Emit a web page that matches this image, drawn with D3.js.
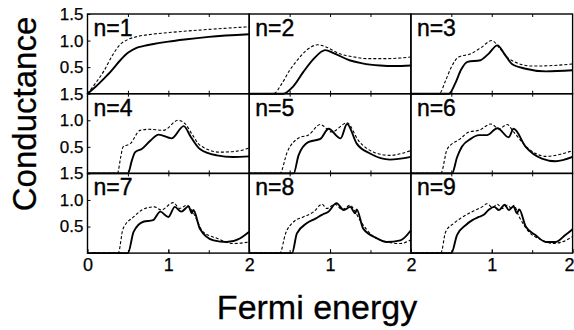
<!DOCTYPE html>
<html>
<head>
<meta charset="utf-8">
<script src="https://cdn.jsdelivr.net/npm/d3@7"></script>
<style>
  body { margin: 0; background: #fff; }
  svg { display: block; font-family: "Liberation Sans", Arial, sans-serif; }
</style>
</head>
<body>
<div id="chart"></div>
<script>
// panel labels, row-major (3 x 3)
const panelN = [1, 2, 3, 4, 5, 6, 7, 8, 9];

// [Fermi energy, conductance]
const solid1 = [[0,0],[0.1,0.13],[0.2,0.28],[0.3,0.44],[0.4,0.62],[0.5,0.77],[0.6,0.86],[0.7,0.9],[0.8,0.93],[1.0,0.98],[1.2,1.02],[1.5,1.07],[2.0,1.12]];
const dashed1 = [[0,0],[0.1,0.2],[0.2,0.42],[0.3,0.7],[0.4,0.92],[0.5,1.02],[0.6,1.07],[0.8,1.12],[1.0,1.15],[1.5,1.21],[2.0,1.26]];
const solid2 = [[0,0],[0.42,0],[0.54,0.13],[0.67,0.41],[0.8,0.66],[0.94,0.82],[1.05,0.76],[1.24,0.63],[1.4,0.57],[1.62,0.53],[1.8,0.52],[2.0,0.53]];
const dashed2 = [[0,0],[0.3,0],[0.4,0.18],[0.5,0.44],[0.6,0.64],[0.71,0.82],[0.85,0.92],[0.95,0.88],[1.12,0.75],[1.3,0.69],[1.45,0.66],[1.7,0.66],[2.0,0.69]];
const solid3 = [[0,0],[0.47,0],[0.55,0.2],[0.62,0.45],[0.7,0.6],[0.86,0.63],[0.96,0.75],[1.07,0.91],[1.16,0.74],[1.25,0.56],[1.42,0.47],[1.67,0.42],[2.0,0.44]];
const dashed3 = [[0,0],[0.35,0],[0.43,0.25],[0.5,0.5],[0.59,0.69],[0.74,0.75],[0.87,0.87],[1.0,1.0],[1.1,0.85],[1.21,0.66],[1.5,0.52],[1.75,0.53],[2.0,0.56]];
const solid4 = [[0,0],[0.5,0],[0.55,0.25],[0.59,0.4],[0.67,0.46],[0.78,0.62],[0.88,0.73],[1.04,0.66],[1.19,0.89],[1.28,0.68],[1.39,0.46],[1.6,0.34],[1.8,0.31],[2.0,0.32]];
const dashed4 = [[0,0],[0.37,0],[0.41,0.3],[0.44,0.5],[0.53,0.56],[0.65,0.81],[0.75,0.83],[0.94,0.81],[1.12,1.0],[1.21,0.93],[1.3,0.72],[1.39,0.53],[1.64,0.4],[1.85,0.42],[2.0,0.48]];
const solid5 = [[0,0],[0.55,0],[0.61,0.34],[0.73,0.59],[0.88,0.65],[0.98,0.84],[1.13,0.66],[1.21,0.93],[1.33,0.56],[1.5,0.37],[1.74,0.26],[2.0,0.31]];
const dashed5 = [[0,0],[0.38,0],[0.47,0.4],[0.63,0.68],[0.73,0.72],[0.88,0.92],[1.02,0.78],[1.21,0.95],[1.35,0.62],[1.54,0.4],[1.74,0.34],[2.0,0.43]];
const solid6 = [[0,0],[0.51,0],[0.57,0.3],[0.63,0.5],[0.74,0.65],[0.84,0.72],[0.94,0.72],[1.07,0.85],[1.21,0.68],[1.27,0.84],[1.42,0.5],[1.62,0.28],[1.79,0.23],[2.0,0.31]];
const dashed6 = [[0,0],[0.37,0],[0.45,0.46],[0.61,0.65],[0.72,0.78],[0.84,0.81],[0.99,0.93],[1.09,0.84],[1.19,0.92],[1.27,0.78],[1.46,0.46],[1.67,0.32],[1.85,0.36],[2.0,0.43]];
const solid7 = [[0,0],[0.5,0],[0.57,0.4],[0.69,0.59],[0.81,0.62],[0.9,0.78],[1.0,0.68],[1.08,0.87],[1.16,0.78],[1.25,0.88],[1.29,0.75],[1.31,0.81],[1.39,0.46],[1.56,0.24],[1.72,0.21],[1.89,0.28],[2.0,0.4]];
const dashed7 = [[0,0],[0.38,0],[0.44,0.46],[0.57,0.68],[0.71,0.84],[0.83,0.87],[0.91,0.81],[1.06,0.95],[1.14,0.84],[1.23,0.9],[1.31,0.75],[1.43,0.4],[1.6,0.28],[1.8,0.18],[2.0,0.21]];
const solid8 = [[0,0],[0.53,0],[0.59,0.37],[0.71,0.56],[0.82,0.65],[0.9,0.72],[0.98,0.78],[1.08,0.94],[1.17,0.81],[1.25,0.87],[1.31,0.75],[1.33,0.82],[1.41,0.46],[1.58,0.28],[1.7,0.21],[1.87,0.24],[2.0,0.43]];
const dashed8 = [[0,0],[0.38,0],[0.45,0.37],[0.55,0.59],[0.67,0.68],[0.8,0.78],[0.9,0.92],[0.96,0.84],[1.06,0.92],[1.15,0.82],[1.25,0.9],[1.31,0.78],[1.37,0.62],[1.54,0.31],[1.7,0.21],[1.87,0.18],[2.0,0.25]];
const solid9 = [[0,0],[0.5,0],[0.57,0.34],[0.68,0.53],[0.76,0.62],[0.84,0.68],[0.9,0.72],[0.96,0.81],[1.03,0.87],[1.09,0.81],[1.16,0.91],[1.21,0.81],[1.27,0.88],[1.31,0.75],[1.34,0.82],[1.42,0.5],[1.54,0.34],[1.67,0.21],[1.79,0.21],[1.91,0.34],[2.0,0.45]];
const dashed9 = [[0,0],[0.37,0],[0.43,0.4],[0.53,0.56],[0.61,0.65],[0.72,0.75],[0.8,0.81],[0.88,0.87],[0.94,0.93],[1.01,0.86],[1.07,0.92],[1.13,0.84],[1.19,0.9],[1.25,0.84],[1.27,0.9],[1.34,0.68],[1.46,0.4],[1.62,0.25],[1.75,0.18],[1.87,0.21],[2.0,0.31]];

const solidCurves = [solid1, solid2, solid3, solid4, solid5, solid6, solid7, solid8, solid9];
const dashedCurves = [dashed1, dashed2, dashed3, dashed4, dashed5, dashed6, dashed7, dashed8, dashed9];

const yTickValues = [0.5, 1.0, 1.5];
const xTicksFirst = [0, 1, 2];   // first column shows 0
const xTicksOther = [1, 2];      // later columns share the boundary label

const W = 574, H = 330;
const m = { l: 87.5, t: 14 }, cw = 161.7, rh = 79.7;
const FONT = "Liberation Sans, Arial, sans-serif";

const svg = d3.select("#chart").append("svg").attr("width", W).attr("height", H);

const x = d3.scaleLinear().domain([0, 2]).range([0, cw]);
const y = d3.scaleLinear().domain([0, 1.5]).range([rh, 0]);
const line = d3.line().x((d) => x(d[0])).y((d) => y(d[1])).curve(d3.curveMonotoneX);

panelN.forEach((n, i) => {
  const col = i % 3, row = Math.floor(i / 3);
  const g = svg.append("g").attr("transform", `translate(${m.l + col * cw},${m.t + row * rh})`);

  // small inward ticks
  g.append("g").call(d3.axisBottom(x).tickValues([0.5, 1, 1.5]).tickSize(-3).tickFormat(""))
    .attr("transform", `translate(0,${rh})`).call((a) => a.select(".domain").remove());
  g.append("g").call(d3.axisTop(x).tickValues([0.5, 1, 1.5]).tickSize(-3).tickFormat(""))
    .call((a) => a.select(".domain").remove());

  g.append("path").datum(dashedCurves[i]).attr("d", line)
    .attr("fill", "none").attr("stroke", "#000").attr("stroke-width", 1.1)
    .attr("stroke-dasharray", "3 2");
  g.append("path").datum(solidCurves[i]).attr("d", line)
    .attr("fill", "none").attr("stroke", "#000").attr("stroke-width", 1.9);

  g.append("rect").attr("width", cw).attr("height", rh)
    .attr("fill", "none").attr("stroke", "#000").attr("stroke-width", 1.4);

  g.append("text").attr("x", 6).attr("y", 22).attr("font-size", 23).attr("fill", "#000")
    .attr("stroke", "#000").attr("stroke-width", 0.4).text(`n=${n}`);

  if (col === 0) {
    const ay = g.append("g").call(d3.axisLeft(y).tickValues(yTickValues).tickSizeInner(-3)
      .tickSizeOuter(0).tickPadding(4).tickFormat(d3.format(".1f")));
    ay.select(".domain").remove();
    ay.selectAll("text").attr("font-size", 17).attr("font-family", FONT)
      .attr("fill", "#000").attr("stroke", "#000").attr("stroke-width", 0.25);
  }
  if (row === 2) {
    const ax = g.append("g").attr("transform", `translate(0,${rh})`)
      .call(d3.axisBottom(x).tickValues(col === 0 ? xTicksFirst : xTicksOther)
        .tickSizeInner(-4).tickSizeOuter(0).tickPadding(5).tickFormat(d3.format("d")));
    ax.select(".domain").remove();
    ax.selectAll("text").attr("font-size", 18).attr("font-family", FONT)
      .attr("fill", "#000").attr("stroke", "#000").attr("stroke-width", 0.25);
    // keep the last label inside the window
    if (col === 2) ax.selectAll("text").filter((d) => d === 2).attr("text-anchor", "end").attr("x", 1.5);
  }
});

svg.append("text").attr("transform", `translate(36,114) rotate(-90)`)
  .attr("text-anchor", "middle").attr("font-size", 33).attr("fill", "#000")
  .attr("stroke", "#000").attr("stroke-width", 0.3).text("Conductance");

svg.append("text").attr("x", 317).attr("y", 319)
  .attr("text-anchor", "middle").attr("font-size", 34).attr("fill", "#000")
  .attr("stroke", "#000").attr("stroke-width", 0.3).text("Fermi energy");
</script>
</body>
</html>
